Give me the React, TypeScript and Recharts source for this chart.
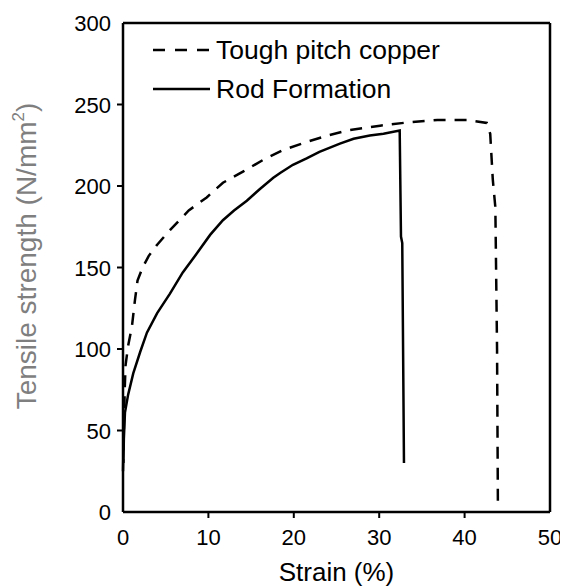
import { LineChart, Line, XAxis, YAxis, ReferenceLine, Legend, Label } from 'recharts';

// Tough pitch copper (dashed)
const toughStrain = [0, 0.1, 0.2, 0.3, 0.6, 1.05, 1.4, 1.7, 2.3, 3.0, 4.0, 5.5, 7.7, 9.8, 11.7, 14.1, 16.4, 18.7, 21.5, 24.0, 26.2, 30.1, 33.3, 36.8, 40.3, 42.6, 43.0, 43.3, 43.6, 43.8, 43.9];
const toughStress = [25, 50, 75, 90, 102, 114, 130, 142, 150, 157, 164, 173, 185, 193, 202, 209, 216, 222, 227, 231, 234, 237, 239, 240.5, 240.5, 238.7, 232, 204, 187, 100, 3];

// Rod Formation (solid)
const rodStrain = [0.05, 0.1, 0.23, 0.6, 1.2, 2.0, 2.8, 4.0, 5.5, 7.0, 8.7, 10.2, 11.7, 13.0, 14.5, 16.0, 17.6, 18.4, 19.9, 21.5, 23.0, 25.4, 27.0, 28.9, 30.5, 32.4, 32.55, 32.7, 32.9];
const rodStress = [30, 45, 61, 72, 85, 98, 110, 122, 134, 147, 159, 170, 179, 185, 191, 198, 205, 208, 213, 217, 221, 226, 229, 231, 232, 234, 169, 165, 30];

const xTicks = [0, 10, 20, 30, 40, 50];
const yTicks = [0, 50, 100, 150, 200, 250, 300];
const seriesNames = ['Tough pitch copper', 'Rod Formation'];

const toughData = toughStrain.map((s, i) => ({ strain: s, stress: toughStress[i] }));
const rodData = rodStrain.map((s, i) => ({ strain: s, stress: rodStress[i] }));

const FONT = '"Liberation Sans", Arial, sans-serif';
const MARGIN = 10;

function XTick(props: any) {
  const { x, y, payload } = props;
  const axisY = y - MARGIN;
  const inner = payload.value > 0 && payload.value < 50;
  return (
    <g>
      {inner && <line x1={x} x2={x} y1={axisY} y2={axisY - 7} stroke="#000" strokeWidth={2} />}
      <text x={x} y={axisY + 27} textAnchor="middle" fontSize={22} fill="#000" fontFamily={FONT}>
        {payload.value}
      </text>
    </g>
  );
}

function YTick(props: any) {
  const { x, y, payload } = props;
  const axisX = x + MARGIN;
  const inner = payload.value > 0 && payload.value < 300;
  return (
    <g>
      {inner && <line x1={axisX} x2={axisX + 7} y1={y} y2={y} stroke="#000" strokeWidth={2} />}
      <text x={axisX - 6} y={y + 8} textAnchor="end" fontSize={22} fill="#000" fontFamily={FONT}>
        {payload.value}
      </text>
    </g>
  );
}

function LegendBox() {
  return (
    <svg width={330} height={80} style={{ display: 'block' }}>
      <line x1={0} x2={57} y1={20} y2={20} stroke="#000" strokeWidth={2.5} strokeDasharray="12 10" />
      <text x={63} y={29} fontSize={26.5} fill="#000" fontFamily={FONT}>{seriesNames[0]}</text>
      <line x1={0} x2={57} y1={59} y2={59} stroke="#000" strokeWidth={2.5} />
      <text x={63} y={68} fontSize={26.5} fill="#000" fontFamily={FONT}>{seriesNames[1]}</text>
    </svg>
  );
}

export default function App() {
  return (
    <div style={{ width: 560, height: 579 }}>
      <LineChart width={560} height={579} margin={{ top: 15, right: 18, left: 0, bottom: 0 }}>
        <XAxis
          dataKey="strain"
          type="number"
          domain={[0, 50]}
          ticks={xTicks}
          interval={0}
          height={75}
          tickLine={false}
          tickMargin={MARGIN}
          tick={<XTick />}
          axisLine={{ stroke: '#000', strokeWidth: 2.5 }}
          allowDuplicatedCategory={false}
        >
          <Label
            content={({ viewBox }: any) => (
              <text
                x={viewBox.x + viewBox.width / 2}
                y={viewBox.y + viewBox.height - 6}
                textAnchor="middle"
                fontSize={26}
                fill="#000"
                fontFamily={FONT}
              >
                Strain (%)
              </text>
            )}
          />
        </XAxis>
        <YAxis
          type="number"
          domain={[0, 300]}
          ticks={yTicks}
          interval={0}
          width={115}
          tickLine={false}
          tickMargin={MARGIN}
          tick={<YTick />}
          axisLine={{ stroke: '#000', strokeWidth: 2.5 }}
        >
          <Label
            content={() => {
              const cx = 18;
              const cy = 248;
              return (
                <text
                  x={cx}
                  y={cy}
                  transform={`rotate(-90 ${cx} ${cy})`}
                  textAnchor="middle"
                  dominantBaseline="central"
                  fontSize={28}
                  fill="#7f7f7f"
                  fontFamily={FONT}
                >
                  Tensile strength (N/mm
                  <tspan dy={-8} fontSize={17}>2</tspan>
                  <tspan dy={8}>)</tspan>
                </text>
              );
            }}
          />
        </YAxis>
        <ReferenceLine y={300} stroke="#000" strokeWidth={2.5} />
        <ReferenceLine x={50} stroke="#000" strokeWidth={2.5} />
        <Legend
          verticalAlign="middle"
          align="center"
          layout="vertical"
          wrapperStyle={{ top: 22, left: 145, width: 330, height: 80 }}
          content={() => <LegendBox />}
        />
        <Line
          data={toughData}
          dataKey="stress"
          name={seriesNames[0]}
          type="linear"
          stroke="#000"
          strokeWidth={2.5}
          strokeDasharray="12 9"
          dot={false}
          isAnimationActive={false}
        />
        <Line
          data={rodData}
          dataKey="stress"
          name={seriesNames[1]}
          type="linear"
          stroke="#000"
          strokeWidth={2.5}
          dot={false}
          isAnimationActive={false}
        />
      </LineChart>
    </div>
  );
}
